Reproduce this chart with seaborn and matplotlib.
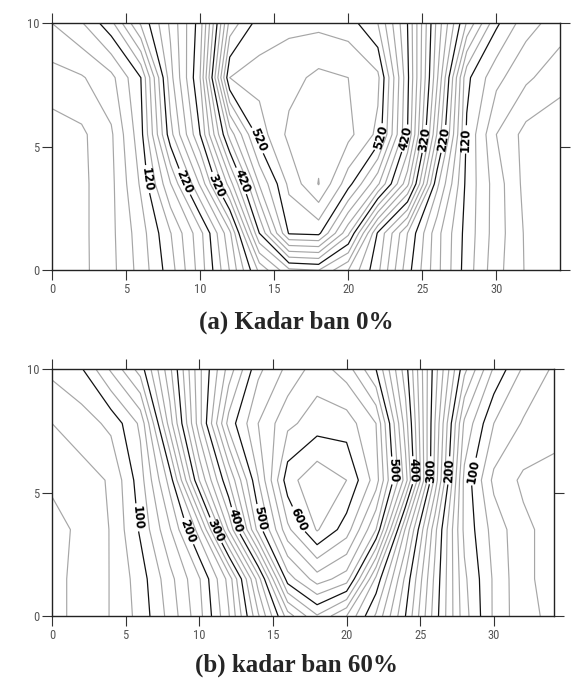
import numpy as np
import pandas as pd
import seaborn as sns
import matplotlib
matplotlib.use("Agg")
import matplotlib.pyplot as plt
from matplotlib import font_manager

sns.set_style("ticks")

# grid: x along the section, y depth
xs = [0, 2, 4, 6, 8, 10, 12, 14, 16, 18, 20, 22, 24, 26, 28, 30, 32, 34.3]
ys = [0, 1.5, 3.5, 5.5, 7.8, 10]

# (a) kadar ban 0%  -- one list per row (y = 0, 1.5, 3.5, 5.5, 7.8, 10)
a_y0 = [25, 35, 54, 88, 131, 189, 261, 345, 395, 400, 360, 305, 228, 166, 110, 67, 38, 25]
a_y1 = [27, 35, 55, 91, 139, 193, 275, 420, 522, 525, 445, 317, 240, 167, 112, 70, 37, 27]
a_y2 = [30, 35, 55, 103, 179, 263, 370, 482, 545, 581, 528, 464, 366, 205, 114, 70, 33, 25]
a_y3 = [30, 36, 57, 113, 233, 320, 448, 530, 565, 572, 566, 535, 420, 258, 117, 60, 33, 27]
a_y4 = [52, 58, 74, 120, 253, 340, 540, 547, 553, 565, 560, 545, 425, 283, 125, 86, 64, 47]
a_y5 = [80, 98, 134, 203, 264, 330, 487, 530, 535, 535, 530, 500, 420, 294, 198, 124, 88, 70]

# (b) kadar ban 60%
b_y0 = [35, 45, 61, 87, 127, 173, 238, 337, 430, 478, 440, 377, 300, 210, 128, 77, 45, 35]
b_y1 = [35, 45, 61, 90, 133, 178, 247, 370, 510, 550, 530, 415, 315, 215, 124, 77, 44, 32]
b_y2 = [30, 46, 61, 103, 158, 229, 362, 488, 575, 622, 590, 520, 357, 226, 115, 72, 45, 30]
b_y3 = [45, 52, 62, 111, 188, 320, 420, 519, 612, 635, 620, 570, 450, 273, 114, 55, 36, 35]
b_y4 = [60, 70, 85, 124, 250, 372, 488, 540, 575, 590, 590, 560, 430, 280, 136, 80, 58, 45]
b_y5 = [85, 98, 143, 189, 275, 375, 448, 515, 545, 570, 550, 500, 409, 289, 186, 117, 77, 55]

levels_a = list(range(20, 600, 20))
levels_b = list(range(20, 660, 20))
major_a = [120, 220, 320, 420, 520]
major_b = [100, 200, 300, 400, 500, 600]

# where the labels sit on the lines
lab_a = [(6.6, 3.7), (9.0, 3.6), (11.3, 3.5), (12.7, 3.6), (13.6, 5.2),
         (22.6, 5.3), (24.1, 5.3), (25.3, 5.3), (26.6, 5.3), (27.9, 5.3)]
lab_b = [(5.9, 4.0), (9.5, 3.5), (11.2, 3.5), (12.7, 3.9), (14.3, 4.0), (16.3, 3.8),
         (23.4, 5.9), (24.5, 5.9), (25.7, 5.9), (26.8, 5.9), (28.2, 5.9)]

Za = np.array([a_y0, a_y1, a_y2, a_y3, a_y4, a_y5])
Zb = np.array([b_y0, b_y1, b_y2, b_y3, b_y4, b_y5])

fig = plt.figure(figsize=(5.84, 6.86), dpi=100)
ax1 = fig.add_axes([0.089, 0.606, 0.870, 0.360])
ax2 = fig.add_axes([0.089, 0.102, 0.860, 0.360])

# narrow font for the tick numbers if one is there
names = {f.name for f in font_manager.fontManager.ttflist}
tick_font = "DejaVu Sans"
for cand in ["Liberation Sans Narrow", "DejaVu Sans Condensed", "Roboto Condensed", "Liberation Sans"]:
    if cand in names:
        tick_font = cand
        break


def draw(ax, Z, levels, major, labpos, xmax):
    minor = [l for l in levels if l not in major]
    ax.contour(xs, ys, Z, levels=minor, colors="#a6a6a6", linewidths=0.85)
    cs = ax.contour(xs, ys, Z, levels=major, colors="#111111", linewidths=0.9)
    txt = ax.clabel(cs, manual=labpos, fmt="%d", fontsize=8.5,
                    inline=True, inline_spacing=3, colors="k")
    for t in txt:
        t.set_fontweight("bold")
    ax.set_xlim(0, xmax)
    ax.set_ylim(0, 10)
    ax.set_xticks([0, 5, 10, 15, 20, 25, 30])
    ax.set_yticks([0, 5, 10])
    ax.tick_params(direction="out", top=True, right=True, labeltop=False,
                   labelright=False, length=7, width=0.8, color="#333333",
                   labelsize=9, labelcolor="#555555", pad=2)
    for lab in ax.get_xticklabels() + ax.get_yticklabels():
        lab.set_family(tick_font)
    for sp in ax.spines.values():
        sp.set_color("#222222")
        sp.set_linewidth(1.0)


draw(ax1, Za, levels_a, major_a, lab_a, 34.3)
draw(ax2, Zb, levels_b, major_b, lab_b, 34.1)

fig.text(0.508, 1 - 322 / 686, "(a) Kadar ban 0%", ha="center", va="center",
         family=["Liberation Serif", "DejaVu Serif"], fontweight="bold", fontsize=18)
fig.text(0.508, 1 - 665 / 686, "(b) kadar ban 60%", ha="center", va="center",
         family=["Liberation Serif", "DejaVu Serif"], fontweight="bold", fontsize=18)

fig.savefig("out.png", dpi=100)
